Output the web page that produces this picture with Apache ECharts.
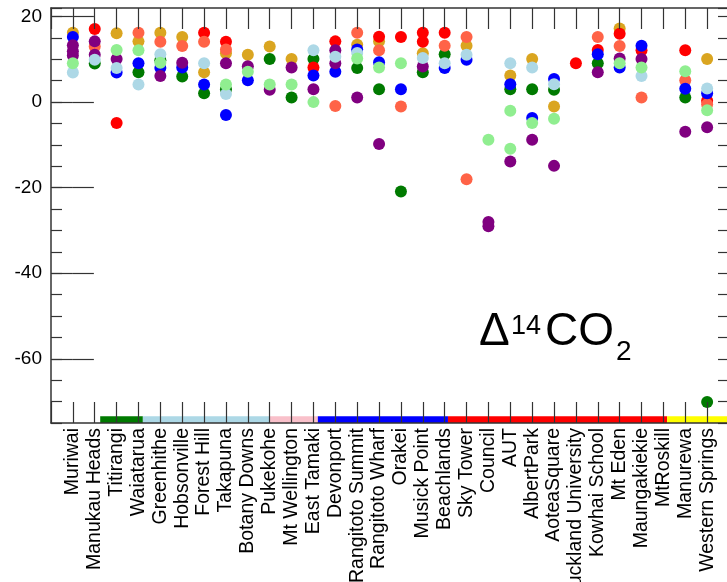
<!DOCTYPE html>
<html>
<head>
<meta charset="utf-8">
<script src="https://cdn.jsdelivr.net/npm/echarts@6/dist/echarts.min.js"></script>
<style>
html,body{margin:0;padding:0;background:#fff;}
#main{width:727px;height:582px;}
</style>
</head>
<body>
<div id="main"></div>
<script>
// ---- DATA ----
const sites = ['Muriwai','Manukau Heads','Titirangi','Waiatarua','Greenhithe','Hobsonville','Forest Hill','Takapuna','Botany Downs','Pukekohe','Mt Wellington','East Tamaki','Devonport','Rangitoto Summit','Rangitoto Wharf','Orakei','Musick Point','Beachlands','Sky Tower','Council','AUT','AlbertPark','AoteaSquare','Auckland University','Kowhai School','Mt Eden','Maungakiekie','MtRoskill','Manurewa','Western Springs'];

const greenVals      = [null, 9.0, null, 7.0, 9.8, 6.0, 2.1, 3.0, null, 10.1, 1.1, 10.1, null, 8.0, 3.0, -20.9, 7.0, 11.2, null, null, 3.0, 3.0, 2.9, null, 9.1, null, null, null, 1.1, -70.1];
const goldVals       = [16.2, null, 16.1, 14.2, 16.2, 15.2, 7.0, 11.4, 11.1, 13.0, 10.1, null, null, 13.4, 14.2, null, 11.4, null, 13.2, null, 6.2, 10.1, -1.0, null, null, 17.2, null, null, null, 10.1];
const redVals        = [null, 17.1, -4.9, null, null, null, 16.2, 14.1, null, null, null, 8.1, 14.2, null, 15.3, 15.2, 16.2, 16.2, null, null, null, null, null, 9.1, 12.2, 16.0, 12.1, null, 12.1, 0.3];
const red2Vals       = [null, null, null, null, null, null, null, null, null, null, null, null, null, null, null, null, 14.1, null, null, null, null, null, null, null, null, null, null, null, null, null];
const tomatoVals     = [null, 13.0, null, 16.2, 14.1, 13.1, 14.1, 12.3, null, null, null, null, -0.9, 16.2, 12.1, -1.0, null, 13.2, 15.2, null, null, null, null, null, 15.2, 13.1, 1.1, null, 5.1, -0.5];
const tomato2Vals    = [null, null, null, null, null, null, null, null, null, null, null, null, null, null, null, null, null, null, -18.0, null, null, null, null, null, null, null, null, null, null, null];
const blueVals       = [15.2, null, 6.9, 9.1, 8.0, 8.1, 4.1, -3.0, 5.1, null, null, 6.2, 7.1, 12.3, 9.3, 3.0, null, 8.0, 9.9, null, 4.2, -3.7, 5.4, null, 11.2, 8.1, 13.2, null, 3.1, 2.1];
const purpleVals     = [13.3, 14.2, 10.1, null, 6.1, 9.2, null, 9.1, 8.4, 2.9, 8.1, 3.0, 12.1, 1.1, -9.8, null, 8.3, null, null, -28.0, -13.9, -8.8, -14.9, null, 7.0, 10.2, 10.1, null, -6.9, -5.9];
const purple2Vals    = [11.9, 11.1, null, null, null, null, null, null, null, null, null, null, 9.1, null, null, null, null, null, null, -29.0, null, null, null, null, null, null, null, null, null, null];
const purple3Vals    = [10.9, null, null, null, null, null, null, null, null, null, null, null, null, null, null, null, null, null, null, null, null, null, null, null, null, null, null, null, null, null];
const lightblueVals  = [6.9, 9.9, 8.0, 4.1, 11.2, null, 9.1, 1.9, null, null, null, 12.1, 10.6, 11.5, null, null, 10.3, 9.1, 11.1, null, 9.1, 8.1, 4.2, null, null, null, 6.1, null, null, 3.2];
const lightgreenVals = [9.1, null, 12.2, 12.1, 9.2, null, null, 4.1, 7.1, 4.1, 4.1, 0.0, null, 10.2, 8.1, 9.1, null, null, null, -8.8, -2.0, -4.9, -3.9, null, null, 9.1, 8.1, null, 7.2, -1.9];
const lightgreen2Vals= [null, null, null, null, null, null, null, null, null, null, null, null, null, null, null, null, null, null, null, null, -10.9, null, null, null, null, null, null, null, null, null];

const yTickLabels = [-60, -40, -20, 0, 20];
// region groups along the x axis (in site-index units)
const groupFrom = [1.25, 3.2, 9.0, 11.2, 17.15, 27.17];
const groupTo   = [3.2, 9.0, 11.2, 17.15, 27.17, 30];

// ---- STYLE ----
const groupColors = ['#007a00', '#add8e6', '#f9c0ca', '#0000ff', '#ff0000', '#ffff00'];
const seriesDefs = [
  [greenVals, '#007a00'],
  [goldVals, '#daa520'],
  [redVals, '#ff0000'],
  [red2Vals, '#ff0000'],
  [tomatoVals, '#ff6347'],
  [tomato2Vals, '#ff6347'],
  [blueVals, '#0000ff'],
  [purpleVals, '#800080'],
  [purple2Vals, '#800080'],
  [purple3Vals, '#800080'],
  [lightblueVals, '#add8e6'],
  [lightgreenVals, '#90ee90'],
  [lightgreen2Vals, '#90ee90']
];

const FONT = '"Liberation Sans", Arial, Helvetica, sans-serif';
const AX = '#333';

const chart = echarts.init(document.getElementById('main'), null, {renderer: 'canvas'});

const series = seriesDefs.map(([vals, color], k) => {
  const data = [];
  vals.forEach((v, i) => { if (v !== null) data.push([i, v]); });
  const s = {
    type: 'scatter',
    xAxisIndex: 0, yAxisIndex: 0,
    symbolSize: 12,
    itemStyle: {color: color, opacity: 1},
    data: data,
    silent: true,
    z: 3
  };
  if (k === 0) {
    s.markArea = {
      silent: true,
      z: 1,
      data: groupFrom.map((f, g) => [
        {xAxis: f, yAxis: -75, itemStyle: {color: groupColors[g], opacity: 1}},
        {xAxis: groupTo[g], yAxis: -73.4}
      ])
    };
  }
  return s;
});

const xBase = {
  type: 'value', min: -1, max: 30, interval: 1,
  splitLine: {show: false},
  axisLine: {show: true, onZero: false, lineStyle: {color: AX, width: 1.5}},
  axisTick: {show: true, inside: true, length: 21, lineStyle: {color: AX, width: 1.2}},
  z: 10
};
const yBase = {
  type: 'value', min: -75, max: 22,
  splitLine: {show: false},
  z: 10
};

const option = {
  backgroundColor: '#fff',
  animation: false,
  grid: {left: 51, top: 8, right: -2, bottom: 159, containLabel: false, outerBoundsMode: 'none'},
  xAxis: [
    Object.assign({}, xBase, {
      position: 'bottom',
      axisLabel: {
        show: true, rotate: 90, margin: 5, color: '#000', fontSize: 19.5, fontFamily: FONT,
        formatter: (v) => (v >= 0 && v < sites.length && Number.isInteger(v)) ? sites[v] : ''
      }
    }),
    Object.assign({}, xBase, {
      position: 'top',
      axisLabel: {show: false}
    })
  ],
  yAxis: [
    Object.assign({}, yBase, {
      position: 'left', interval: 5,
      axisLine: {show: true, onZero: false, lineStyle: {color: AX, width: 1.5}},
      axisTick: {show: true, inside: true, length: 11, lineStyle: {color: AX, width: 1.2}},
      axisLabel: {show: true, customValues: yTickLabels, margin: 9, color: '#000', fontSize: 19, fontFamily: FONT}
    }),
    Object.assign({}, yBase, {
      position: 'left',
      axisLine: {show: false},
      axisTick: {show: true, inside: true, length: 21, customValues: yTickLabels, lineStyle: {color: AX, width: 1.2}},
      axisLabel: {show: false}
    }),
    Object.assign({}, yBase, {
      position: 'right', interval: 5,
      axisLine: {show: true, onZero: false, lineStyle: {color: AX, width: 1.5}},
      axisTick: {show: true, inside: true, length: 11, lineStyle: {color: AX, width: 1.2}},
      axisLabel: {show: false}
    }),
    Object.assign({}, yBase, {
      position: 'right',
      axisLine: {show: false},
      axisTick: {show: true, inside: true, length: 21, customValues: yTickLabels, lineStyle: {color: AX, width: 1.2}},
      axisLabel: {show: false}
    })
  ],
  graphic: [
    {type: 'text', left: 479, top: 309, z: 20, style: {text: '\u0394', font: '46px ' + FONT, fill: '#000'}},
    {type: 'text', left: 511, top: 313, z: 20, style: {text: '14', font: '27px ' + FONT, fill: '#000'}},
    {type: 'text', left: 545, top: 309, z: 20, style: {text: 'CO', font: '46px ' + FONT, fill: '#000'}},
    {type: 'text', left: 616, top: 338, z: 20, style: {text: '2', font: '28px ' + FONT, fill: '#000'}}
  ],
  series: series
};
chart.setOption(option);
</script>
</body>
</html>
